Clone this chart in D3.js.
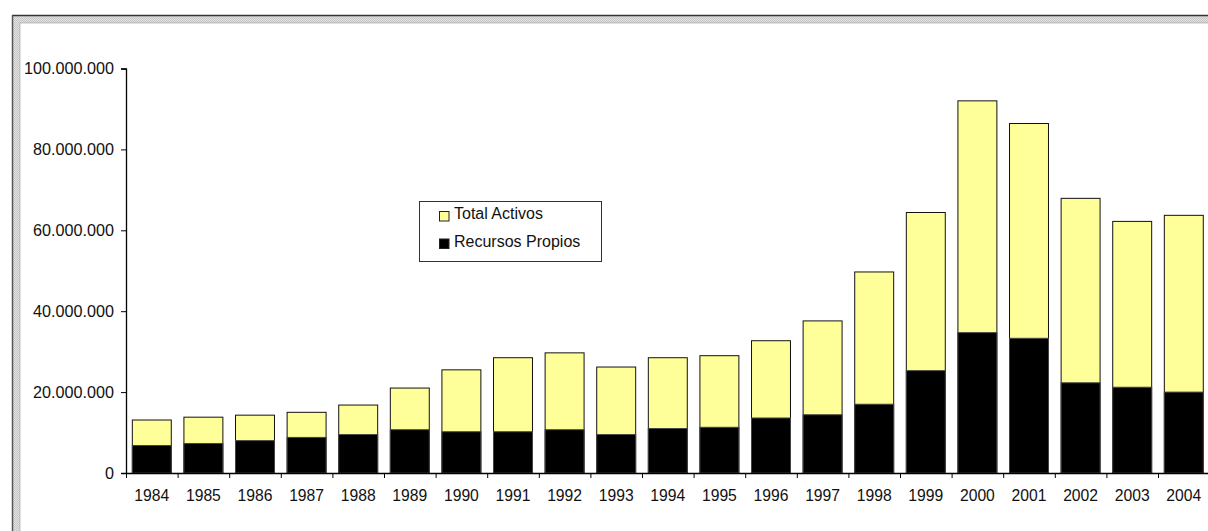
<!DOCTYPE html>
<html>
<head>
<meta charset="utf-8">
<script src="https://cdn.jsdelivr.net/npm/d3@7"></script>
<style>
  body { margin: 0; background: #fff; }
  svg { display: block; font-family: Arial, "Liberation Sans", sans-serif; }
</style>
</head>
<body>
<script>
'use strict';

// data
const years = ["1984","1985","1986","1987","1988","1989","1990","1991","1992","1993","1994",
               "1995","1996","1997","1998","1999","2000","2001","2002","2003","2004"];
const totalActivos = [13.1, 13.8, 14.3, 15.0, 16.8, 21.0, 25.5, 28.5, 29.7, 26.2, 28.5,
                      29.0, 32.7, 37.6, 49.7, 64.4, 92.0, 86.4, 67.9, 62.2, 63.7].map(v => v * 1e6);
const recursosPropios = [6.8, 7.3, 8.0, 8.8, 9.5, 10.7, 10.2, 10.2, 10.7, 9.5, 11.0,
                         11.3, 13.6, 14.4, 17.0, 25.3, 34.7, 33.3, 22.3, 21.2, 20.0].map(v => v * 1e6);
const yTicks = [0, 20e6, 40e6, 60e6, 80e6, 100e6];
const seriesNames = ["Total Activos", "Recursos Propios"];
const seriesColors = ["#ffff99", "#000000"];

const W = 1208, H = 531;
const plot = {left: 126, right: 1209.6, top: 68.5, bottom: 473};

const svg = d3.select('body').append('svg')
  .attr('width', W)
  .attr('height', H);

// chart frame with the grey patterned border
const defs = svg.append('defs');
const pat = defs.append('pattern')
  .attr('id', 'checker')
  .attr('width', 2).attr('height', 2)
  .attr('patternUnits', 'userSpaceOnUse');
pat.append('rect').attr('width', 2).attr('height', 2).attr('fill', '#e2e2e2');
pat.append('rect').attr('width', 1).attr('height', 1).attr('fill', '#c6c6c6');
pat.append('rect').attr('x', 1).attr('y', 1).attr('width', 1).attr('height', 1).attr('fill', '#c6c6c6');

svg.append('rect')
  .attr('x', 12).attr('y', 15)
  .attr('width', W + 20).attr('height', H + 20)
  .attr('fill', 'url(#checker)');
svg.append('rect')
  .attr('x', 20).attr('y', 23)
  .attr('width', W + 20).attr('height', H + 20)
  .attr('fill', '#fff')
  .attr('stroke', '#9a9a9a')
  .attr('stroke-width', 0.6);
svg.append('line')
  .attr('x1', 12).attr('y1', 15.5).attr('x2', W).attr('y2', 15.5)
  .attr('stroke', '#333').attr('stroke-width', 1.5);
svg.append('line')
  .attr('x1', 12.5).attr('y1', 15).attr('x2', 12.5).attr('y2', H)
  .attr('stroke', '#555').attr('stroke-width', 1.5);

// scales
const x = d3.scaleBand()
  .domain(years)
  .range([plot.left, plot.right])
  .paddingInner(0.245)
  .paddingOuter(0.1225);

const y = d3.scaleLinear()
  .domain([0, 100e6])
  .range([plot.bottom, plot.top]);

const fmt = d3.formatLocale({decimal: ",", thousands: ".", grouping: [3], currency: ["", ""]}).format(",");

// bars: total in the back, own resources in front
const bars = svg.append('g');
bars.selectAll('.total')
  .data(years)
  .enter()
  .append('rect')
    .attr('class', 'total')
    .attr('x', d => x(d))
    .attr('y', (d, i) => y(totalActivos[i]))
    .attr('width', x.bandwidth())
    .attr('height', (d, i) => y(0) - y(totalActivos[i]))
    .attr('fill', seriesColors[0])
    .attr('stroke', '#111')
    .attr('stroke-width', 1);

bars.selectAll('.propios')
  .data(years)
  .enter()
  .append('rect')
    .attr('class', 'propios')
    .attr('x', d => x(d))
    .attr('y', (d, i) => y(recursosPropios[i]))
    .attr('width', x.bandwidth())
    .attr('height', (d, i) => y(0) - y(recursosPropios[i]))
    .attr('fill', seriesColors[1])
    .attr('stroke', '#444')
    .attr('stroke-width', 1);

// y axis
const yAxis = svg.append('g')
  .attr('transform', 'translate(' + plot.left + ',0)')
  .call(d3.axisLeft(y).tickValues(yTicks).tickFormat(fmt).tickSize(5).tickPadding(7));
yAxis.select('.domain').attr('stroke', '#000').attr('stroke-width', 1.3);
yAxis.selectAll('text').attr('font-size', '16.2px').attr('fill', '#111').attr('font-family', null);

// x axis: ticks sit between categories, labels under the bars
const xEdge = d3.scaleLinear().domain([0, years.length]).range([plot.left, plot.right]);
const xAxisTicks = svg.append('g')
  .attr('transform', 'translate(0,' + plot.bottom + ')')
  .call(d3.axisBottom(xEdge).tickValues(d3.range(years.length + 1)).tickFormat('').tickSize(5).tickSizeOuter(0));
xAxisTicks.select('.domain').attr('stroke', '#000').attr('stroke-width', 1.3);

const xAxisLabels = svg.append('g')
  .attr('transform', 'translate(0,' + plot.bottom + ')')
  .call(d3.axisBottom(x).tickSize(0).tickPadding(17));
xAxisLabels.select('.domain').remove();
xAxisLabels.selectAll('text').attr('font-size', '15.7px').attr('fill', '#111').attr('font-family', null);

// legend
const legend = svg.append('g').attr('transform', 'translate(419,201)');
legend.append('rect')
  .attr('x', 0.5).attr('y', 0.5)
  .attr('width', 182).attr('height', 60)
  .attr('fill', '#fff')
  .attr('stroke', '#333');

const item = legend.selectAll('.item')
  .data(seriesNames)
  .enter()
  .append('g')
    .attr('transform', (d, i) => 'translate(0,' + (i * 27.5) + ')');
item.append('rect')
  .attr('x', 20.5).attr('y', 10.5)
  .attr('width', 9.5).attr('height', 9.5)
  .attr('fill', (d, i) => seriesColors[i])
  .attr('stroke', '#222');
item.append('text')
  .attr('x', 35)
  .attr('y', 18)
  .attr('font-size', '16px')
  .attr('fill', '#111')
  .text(d => d);
</script>
</body>
</html>
